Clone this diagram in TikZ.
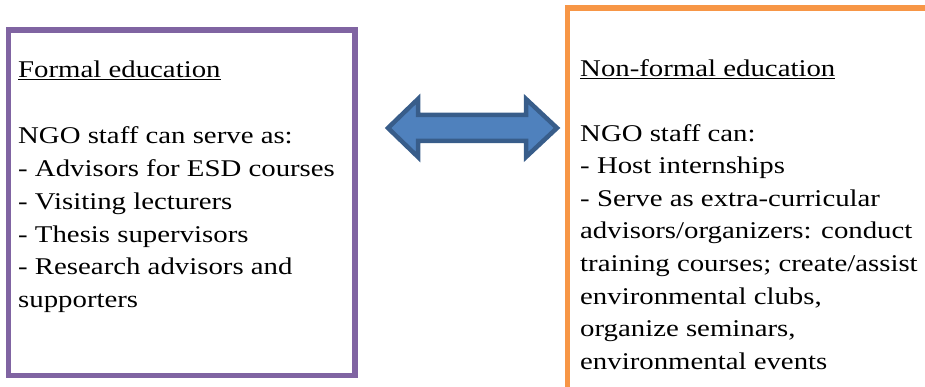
\documentclass[tikz,border=0pt]{standalone}
\usepackage{fontspec}
\setmainfont[FakeStretch=1.2]{Liberation Serif}
\definecolor{boxpurple}{HTML}{8064A2}
\definecolor{boxorange}{HTML}{F79646}
\definecolor{arrowfill}{HTML}{4F81BD}
\definecolor{arrowline}{HTML}{385D8A}
\begin{document}
\begin{tikzpicture}[x=1pt,y=-1pt,
  txt/.style={anchor=base west,inner sep=0pt,font=\fontsize{24}{32}\selectfont,text=black},
  frame/.style={line width=5.5pt},
  dblarrow/.style={fill=arrowfill,draw=arrowline,line width=4.5pt,miter limit=10}]
\useasboundingbox (0,0) rectangle (925,387);
\clip (0,0) rectangle (925,387);
% left box
\draw[frame,draw=boxpurple] (8.5,30) rectangle (355,375.5);
% right box (extends beyond picture)
\draw[frame,draw=boxorange] (567.3,8) rectangle (940,400);
% double arrow
\draw[dblarrow] (388,128) -- (418,99) -- (418,115) -- (526,115) -- (526,99)
  -- (557,128) -- (526,157) -- (526,141) -- (418,141) -- (418,157) -- cycle;
% left text
\node[txt] (l1) at (18,78) {\underline{Formal education}};
\node[txt] (l2) at (18,144) {NGO staff can serve as:};
\node[txt] (l3) at (18,177) {- Advisors for ESD courses};
\node[txt] (l4) at (18,209.5) {- Visiting lecturers};
\node[txt] (l5) at (18,242) {- Thesis supervisors};
\node[txt] (l6) at (18,274.5) {- Research advisors and};
\node[txt] (l7) at (18,307) {supporters};
% right text
\node[txt] (r1) at (580,77) {\underline{Non-formal education}};
\node[txt] (r2) at (580,142) {NGO staff can:};
\node[txt] (r3) at (580,174) {- Host internships};
\node[txt] (r4) at (580,206.5) {- Serve as extra-curricular};
\node[txt] (r5) at (580,239) {advisors/organizers: conduct};
\node[txt] (r6) at (580,271.5) {training courses; create/assist};
\node[txt] (r7) at (580,304) {environmental clubs,};
\node[txt] (r8) at (580,336.5) {organize seminars,};
\node[txt] (r9) at (580,369) {environmental events};
\end{tikzpicture}
\end{document}
